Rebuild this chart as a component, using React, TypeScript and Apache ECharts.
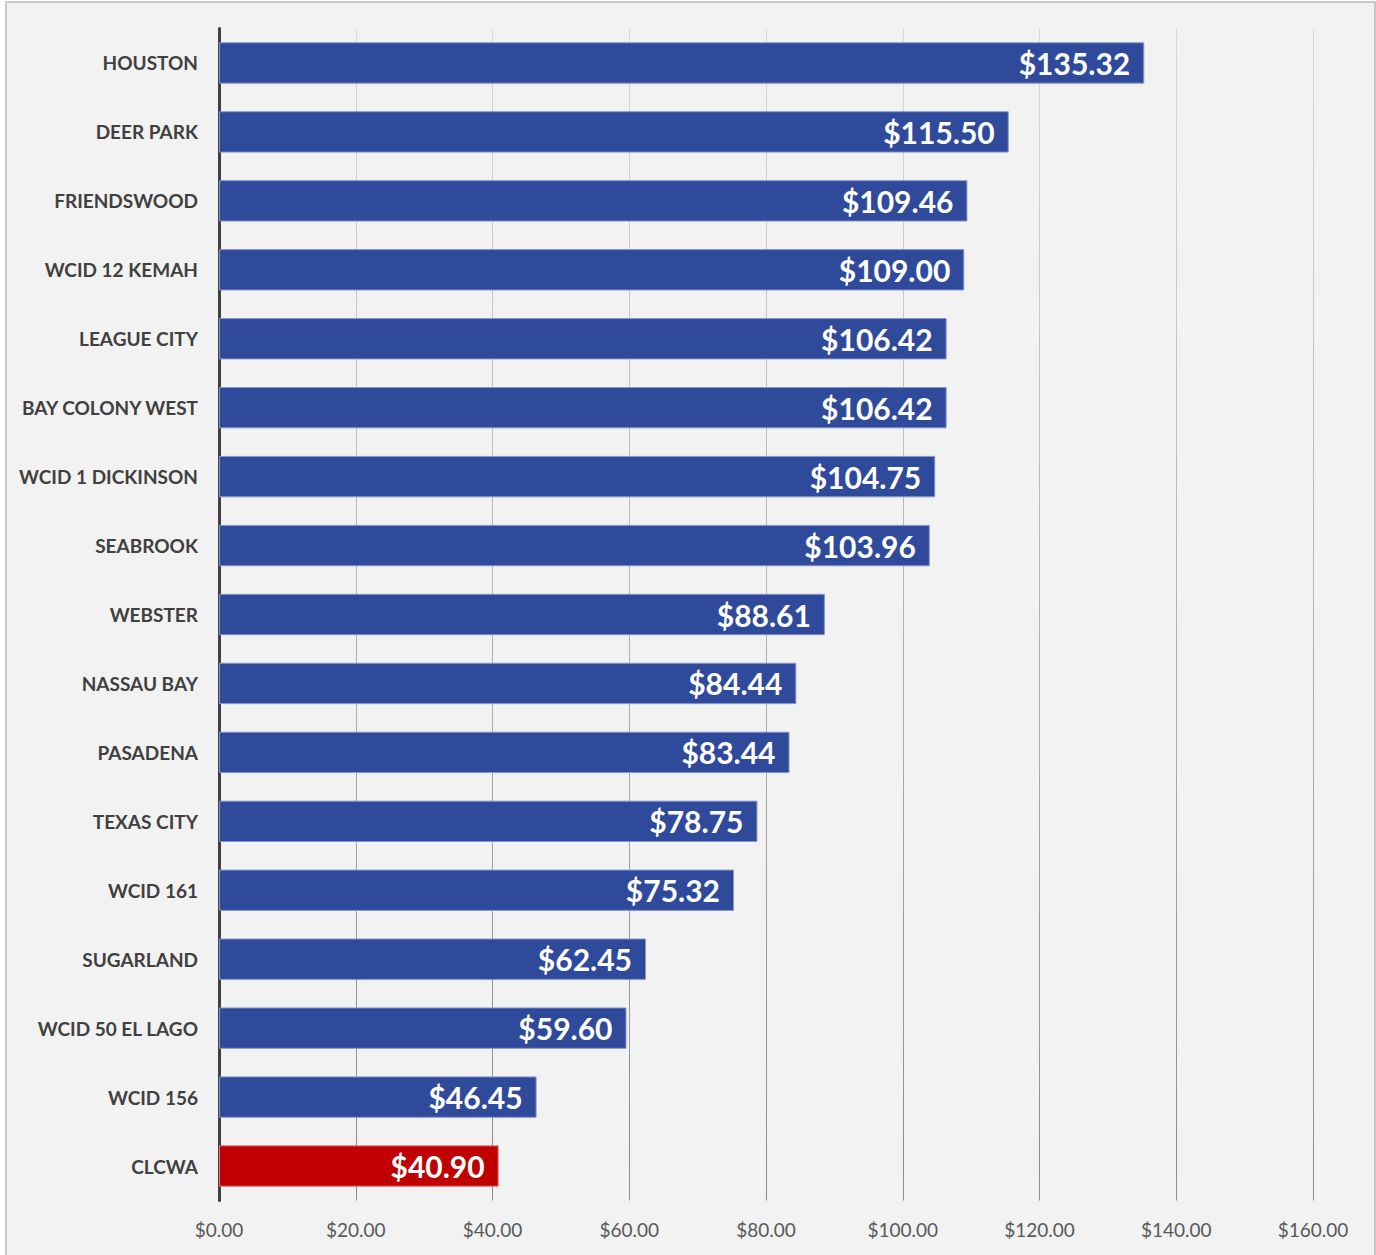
import React, { useEffect, useRef } from "react";
import * as echarts from "echarts";

const categories = [
  "HOUSTON",
  "DEER PARK",
  "FRIENDSWOOD",
  "WCID 12 KEMAH",
  "LEAGUE CITY",
  "BAY COLONY WEST",
  "WCID 1 DICKINSON",
  "SEABROOK",
  "WEBSTER",
  "NASSAU BAY",
  "PASADENA",
  "TEXAS CITY",
  "WCID 161",
  "SUGARLAND",
  "WCID 50 EL LAGO",
  "WCID 156",
  "CLCWA",
];

const values = [
  135.32, 115.5, 109.46, 109.0, 106.42, 106.42, 104.75, 103.96, 88.61, 84.44,
  83.44, 78.75, 75.32, 62.45, 59.6, 46.45, 40.9,
];

const highlighted = ["CLCWA"];

const BLUE = "#2F4A9B";
const BLUE_EDGE = "#8696cc";
const RED = "#C00000";
const RED_EDGE = "#e27a7a";
const FONT = "Lato, 'Open Sans', sans-serif";

export default function App() {
  const ref = useRef<HTMLDivElement>(null);

  useEffect(() => {
    if (!ref.current) return;
    const chart = echarts.init(ref.current, null, { renderer: "svg" });
    chart.setOption({
      animation: false,
      backgroundColor: "#f2f2f2",
      textStyle: { fontFamily: FONT },
      grid: { left: 212, right: 61, top: 25.5, bottom: 60.5, containLabel: false },
      xAxis: {
        type: "value",
        min: 0,
        max: 160,
        interval: 20,
        axisLine: { show: false },
        axisTick: { show: false },
        axisLabel: {
          color: "#595959",
          fontSize: 19,
          fontFamily: FONT,
          margin: 19,
          formatter: (v: number) => "$" + v.toFixed(2),
        },
        splitLine: {
          show: true,
          lineStyle: {
            width: 1,
            color: {
              type: "linear",
              x: 0,
              y: 25,
              x2: 0,
              y2: 1198,
              global: true,
              colorStops: [
                { offset: 0, color: "#dadada" },
                { offset: 1, color: "#8a8a8a" },
              ],
            },
          },
        },
      },
      yAxis: {
        type: "category",
        inverse: true,
        data: categories,
        axisLine: { show: true, lineStyle: { color: "#404040", width: 3 } },
        axisTick: { show: false },
        axisLabel: {
          color: "#404040",
          fontSize: 19,
          fontWeight: "bold",
          fontFamily: FONT,
          margin: 21,
        },
      },
      series: [
        {
          type: "bar",
          barWidth: "60%",
          data: values.map((v, i) => {
            const hi = highlighted.includes(categories[i]);
            return {
              value: v,
              itemStyle: {
                color: hi ? RED : BLUE,
                borderColor: hi ? RED_EDGE : BLUE_EDGE,
                borderWidth: 1,
              },
            };
          }),
          label: {
            show: true,
            position: "insideRight",
            distance: 14,
            color: "#ffffff",
            fontSize: 30,
            fontWeight: "bold",
            fontFamily: FONT,
            formatter: (p: any) => "$" + Number(p.value).toFixed(2),
          },
        },
      ],
    });
    return () => chart.dispose();
  }, []);

  return (
    <div
      style={{
        position: "absolute",
        left: 5,
        top: 1,
        width: 1371,
        height: 1262,
        border: "2px solid #c8c8c8",
        boxSizing: "border-box",
        background: "#f2f2f2",
      }}
    >
      <div ref={ref} style={{ width: "100%", height: "100%" }} />
    </div>
  );
}
